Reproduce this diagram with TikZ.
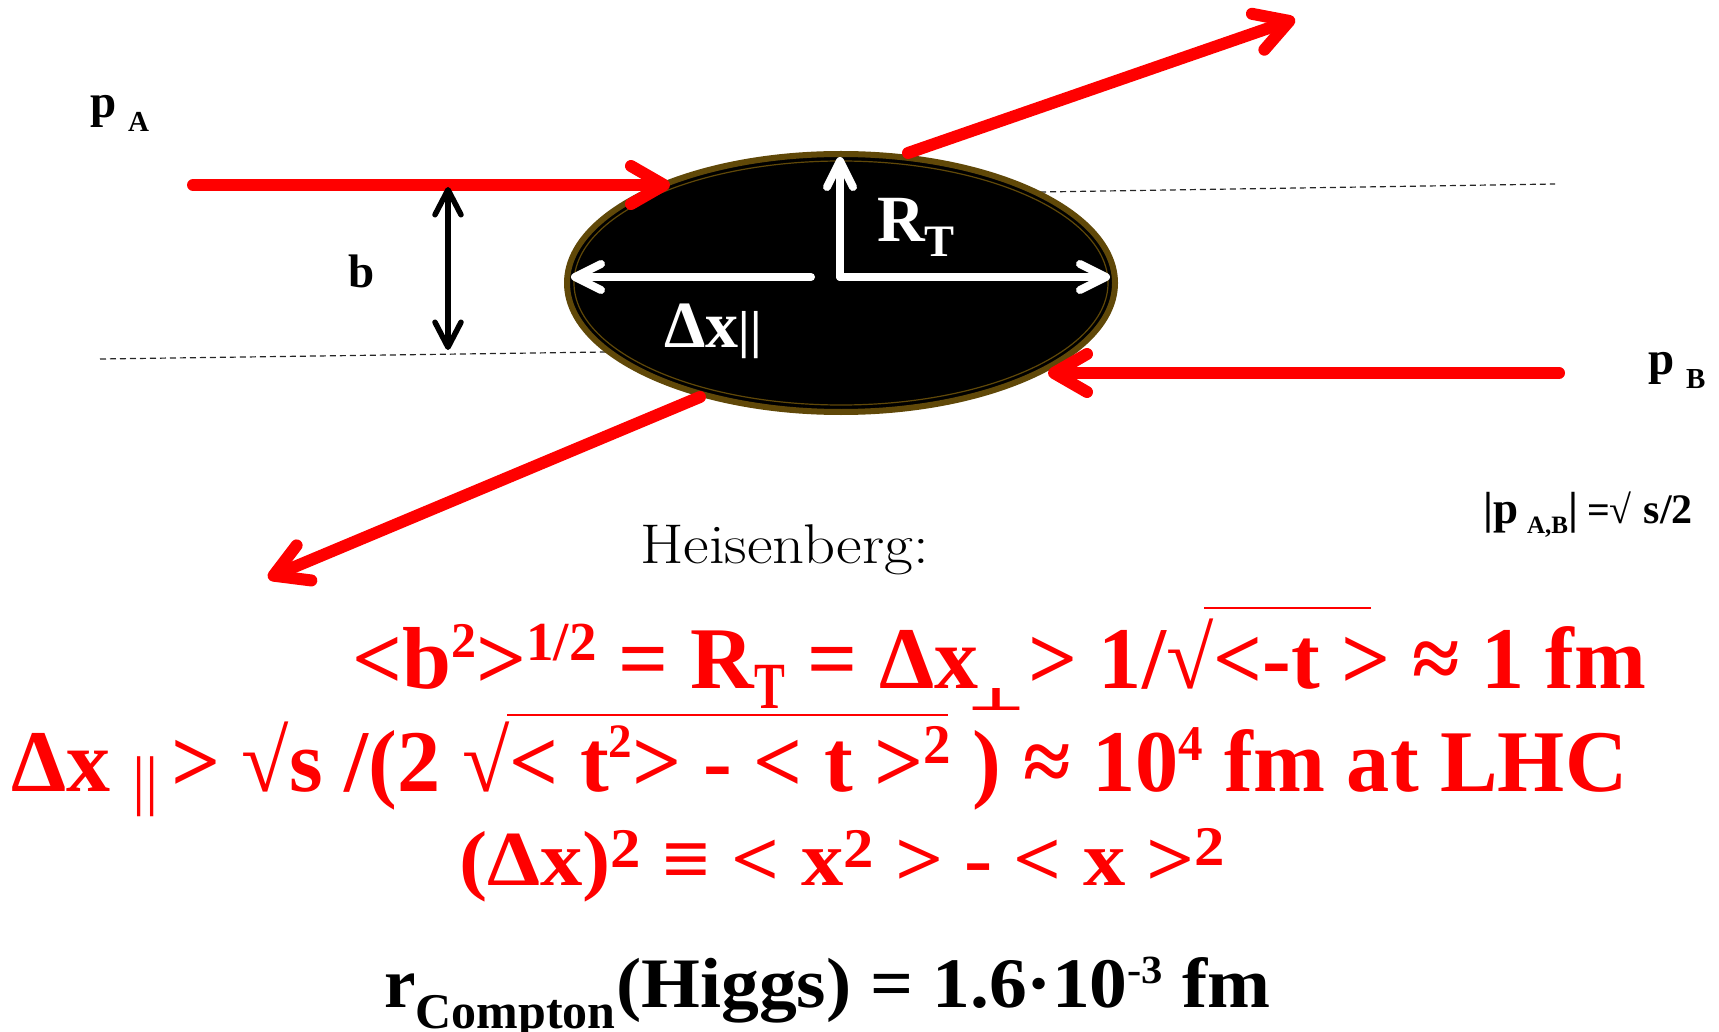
\documentclass[tikz,border=0pt]{standalone}
\usepackage{fontspec}
\usepackage{graphicx}
\newfontfamily\tnr{Liberation Serif}
\newfontfamily\djv{DejaVu Serif}
\usetikzlibrary{arrows.meta,shapes.geometric}
\definecolor{rim}{RGB}{96,72,8}
\newcommand{\fs}[1]{\fontsize{#1}{#1}\selectfont}
\newcommand{\up}[3]{{\fs{#1}\raisebox{#2pt}{#3}}}
\begin{document}
\begin{tikzpicture}[x=1pt,y=-1pt,
  txt/.style={inner sep=0pt, anchor=base west, font=\tnr\bfseries},
  redarr/.style={draw=red, line width=12pt, line cap=round, -{Straight Barb[length=33pt,width=38pt,round]}},
  whitearr/.style={draw=white, line width=8pt, line cap=round, -{Straight Barb[length=26pt,width=26pt,round]}},
  blackarr/.style={draw=black, line width=5.5pt, {Straight Barb[length=25pt,width=26pt,round]}-{Straight Barb[length=25pt,width=26pt,round]}},
  dashline/.style={draw=black!85, line width=1.2pt, dash pattern=on 6pt off 4pt},
  ovl/.style={draw=red, line width=2.2pt}]
\useasboundingbox (0,0) rectangle (1719,1032);
% dashed reference lines
\coordinate (d1a) at (1040,192); \coordinate (d1b) at (1555,184);
\coordinate (d2a) at (100,359); \coordinate (d2b) at (606,352);
\draw[dashline] (d1a) -- (d1b);
\draw[dashline] (d2a) -- (d2b);
% ellipse
\node[draw=rim, line width=6pt, fill=black, ellipse, minimum width=548pt, minimum height=258pt, inner sep=0pt] (ell) at (841,283) {};
\draw[rim, line width=1.2pt] (841,283) ellipse [x radius=267pt, y radius=122pt];
% white arrows
\coordinate (c0) at (840,277);
\coordinate (cl) at (811,277);
\coordinate (tu) at (840,157);
\coordinate (tr) at (1110,277);
\coordinate (tl) at (571,277);
\draw[whitearr] (c0) -- (tu);
\draw[whitearr] (c0) -- (tr);
\draw[whitearr] (cl) -- (tl);
\node[txt, text=white, font=\tnr\bfseries\fs{66}] (RT) at (877,242) {R\up{45}{-15}{T}};
\node[txt, text=white, font=\tnr\bfseries\fs{66}] (dxpar) at (664,348) {Δx{\fs{52}||}};
% red arrows
\coordinate (a0) at (193,185); \coordinate (a1) at (670,185);
\coordinate (o0) at (908,153); \coordinate (o1) at (1295,19);
\coordinate (b0) at (1559,373); \coordinate (b1) at (1048,373);
\coordinate (l0) at (700,397); \coordinate (l1) at (268,578);
\draw[redarr] (a0) -- (a1);
\draw[redarr] (o0) -- (o1);
\draw[redarr] (b0) -- (b1);
\draw[redarr] (l0) -- (l1);
% impact parameter
\coordinate (bt) at (448,187); \coordinate (bb) at (448,350);
\draw[blackarr] (bt) -- (bb);
\node[txt, font=\tnr\bfseries\fs{47}] (blab) at (348,288) {b};
\node[txt, font=\tnr\bfseries\fs{47}] (pA) at (90,118) {p \up{29}{-14}{A}};
\node[txt, font=\tnr\bfseries\fs{47}] (pB) at (1648,374) {p \up{29}{-14}{B}};
\node[txt, font=\tnr\bfseries\fs{36}] (pAB) at (1483,523) {{\fs{45}|p} \up{25}{-10}{A,B}{\fs{45}|} {\fs{40}=√}\hspace{12pt}{\fs{42}s/2}};
% Heisenberg
\node[inner sep=0pt, anchor=base west, font=\fs{56}] (heis) at (640,563) {\scalebox{1.12}[1]{Heisenberg:}};
% red formulas
\node[txt, text=red, font=\tnr\bfseries\fs{88}] (f1a) at (352,688)
  {<b\up{50}{31}{2}>\up{55}{28}{1/2} = R\up{66}{-20}{\scalebox{0.7}[1]{T}} = Δx\hspace{-12pt}\raisebox{-22pt}{\resizebox{60pt}{22pt}{\djv\bfseries ⊥}}\hspace{-10pt}};
\node[txt, text=red, font=\tnr\bfseries\fs{88}] (f1b) at (1028,688)
  {\scalebox{0.98}[1]{> 1/√<-t > ≈ 1 fm}};
\coordinate (o1a) at (1204,608); \coordinate (o1b) at (1371,608);
\draw[ovl] (o1a) -- (o1b);
\node[txt, text=red, font=\tnr\bfseries\fs{88}] (f2a) at (11,791)
  {Δx \up{66}{-11}{\mdseries||}};
\node[txt, text=red, font=\tnr\bfseries\fs{88}] (f2b) at (171,791)
  {\scalebox{0.981}[1]{> √s /(2 √< t\up{48}{34}{2}> - < t >\up{56}{28}{2} ) ≈ 10\up{50}{31}{4} fm at LHC}};
\coordinate (o2a) at (507,715); \coordinate (o2b) at (948,715);
\draw[ovl] (o2a) -- (o2b);
\node[txt, text=red, font=\tnr\bfseries\fs{78}] (f3) at (459,885)
  {\scalebox{1.085}[1]{(Δx)\up{56}{18}{2} ≡ < x\up{56}{18}{2} > - < x >\up{56}{20}{2}}};
\node[txt, font=\tnr\bfseries\fs{71}] (f4a) at (384,1007)
  {r\up{50}{-21}{Compton}};
\node[txt, font=\tnr\bfseries\fs{71}] (f4b) at (616,1007)
  {\scalebox{1.065}[1]{(Higgs) = 1.6·10\up{40}{24}{-3} fm}};
\end{tikzpicture}
\end{document}
